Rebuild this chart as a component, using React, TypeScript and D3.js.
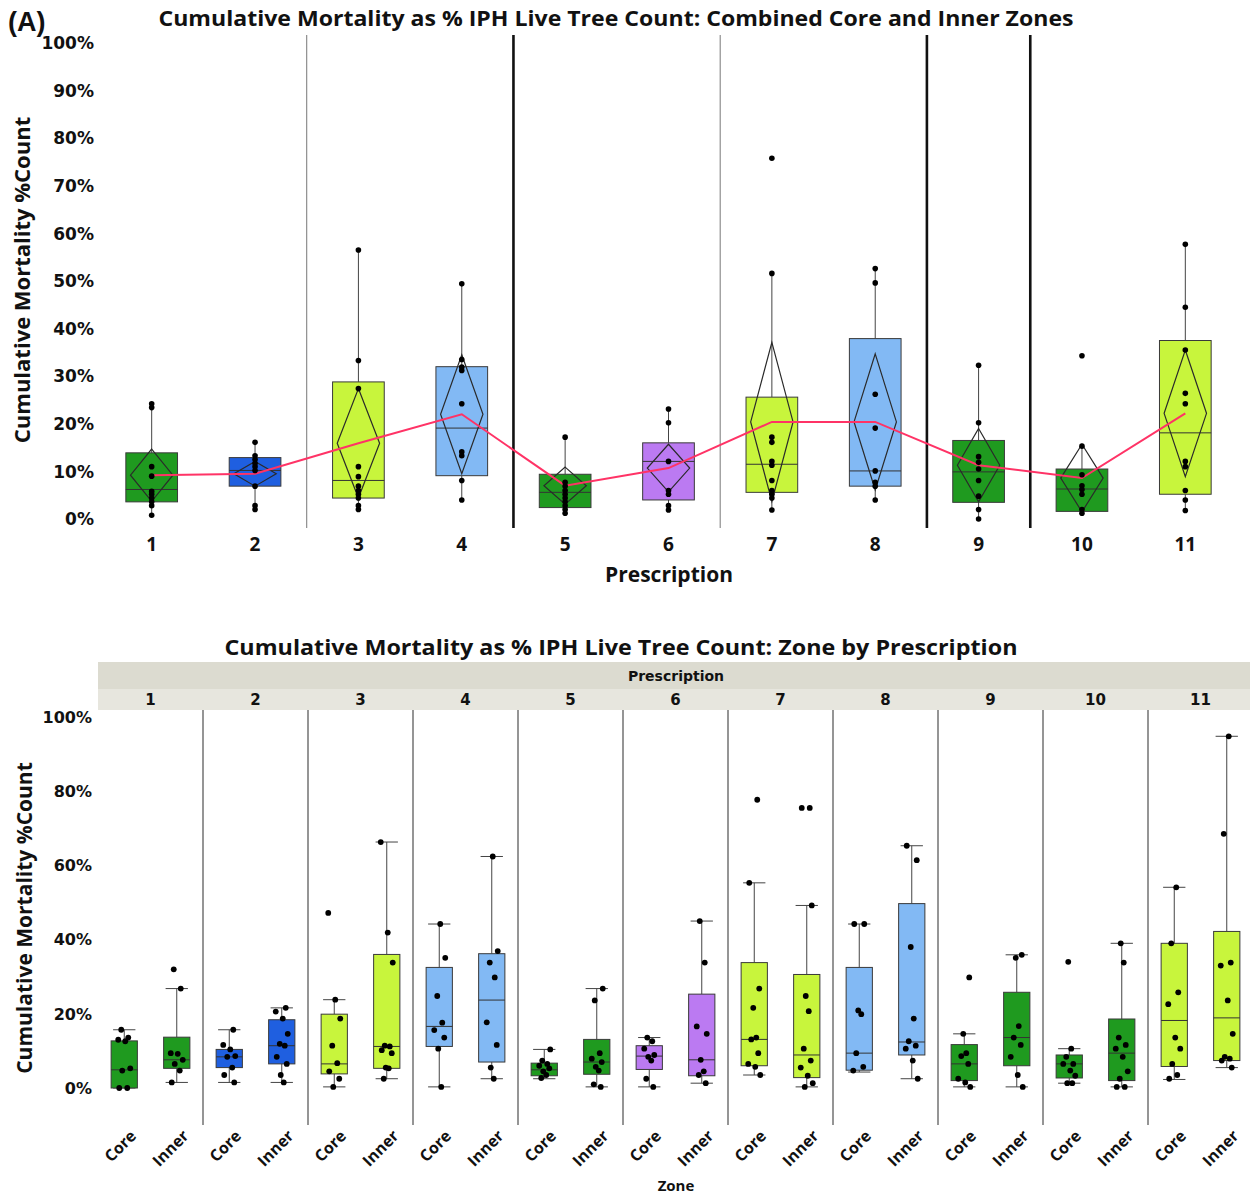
import React from 'react';
import * as d3 from 'd3';

// ---------- shared categories ----------
const prescriptions = ['1', '2', '3', '4', '5', '6', '7', '8', '9', '10', '11'];
const zones = ['Core', 'Inner'];
const rxColors = ['#1f9a1f', '#1f5fe0', '#c8f53c', '#82b9f4', '#1f9a1f', '#bb7af2', '#c8f53c', '#82b9f4', '#1f9a1f', '#1f9a1f', '#c8f53c'];

// ---------- top chart (combined) ----------
const topTicks = [0, 10, 20, 30, 40, 50, 60, 70, 80, 90, 100];
const topQ1 = [3.6, 6.9, 4.4, 9.1, 2.4, 4.0, 5.6, 6.9, 3.5, 1.6, 5.2];
const topMedian = [6.2, 10.2, 8.1, 19.1, 5.6, 12.1, 11.5, 10.1, 9.9, 6.3, 18.1];
const topQ3 = [13.9, 12.9, 28.8, 32.0, 9.4, 16.0, 25.6, 37.9, 16.5, 10.5, 37.5];
const topWhiskerLo = [0.8, 2.0, 2.0, 4.0, 0.8, 1.9, 1.9, 4.0, 0.0, 1.2, 1.8];
const topWhiskerHi = [24.2, 16.1, 56.5, 49.4, 17.2, 23.1, 51.6, 52.6, 32.3, 15.3, 57.7];
const topMean = [9.2, 9.5, 15.9, 22.0, 7.0, 10.7, 20.4, 20.4, 11.3, 8.6, 22.2];
const topCiLo = [3.7, 6.9, 4.4, 9.5, 3.1, 5.7, 3.7, 6.1, 3.6, 1.5, 8.9];
const topCiHi = [14.7, 12.1, 27.4, 34.5, 10.9, 15.7, 37.1, 34.7, 19.0, 15.7, 35.5];
const topPoints = [
  [24.2, 23.4, 11.0, 9.0, 5.8, 5.2, 4.4, 3.6, 2.8, 0.8],
  [16.1, 13.3, 12.5, 11.7, 11.0, 10.2, 6.9, 2.8, 2.0],
  [56.5, 33.3, 27.4, 11.0, 8.9, 6.9, 6.0, 5.2, 4.4, 2.8, 2.0],
  [49.4, 33.5, 31.9, 31.2, 24.2, 14.1, 13.3, 8.1, 4.0],
  [17.2, 7.7, 6.9, 6.0, 5.2, 4.4, 3.6, 2.8, 2.0, 1.2],
  [23.1, 20.2, 12.1, 6.0, 5.2, 2.8, 1.9],
  [75.8, 51.6, 17.2, 16.1, 12.1, 11.3, 8.1, 6.0, 5.2, 4.4, 1.9],
  [52.6, 49.6, 26.2, 19.1, 10.1, 7.7, 6.9, 4.0],
  [32.3, 20.2, 13.1, 11.9, 10.5, 8.1, 4.8, 2.0, 0.0],
  [34.3, 15.3, 9.3, 7.0, 6.2, 5.2, 2.0, 1.2],
  [57.7, 44.5, 35.5, 26.4, 24.2, 12.1, 11.0, 6.0, 4.0, 1.8],
];
const dividerAfter = ['2', '4', '6', '8', '9'];
const dividerWeight = ['thin', 'thick', 'thin', 'thick', 'thick'];

// ---------- bottom chart (zone by prescription) ----------
const botTicks = [0, 20, 40, 60, 80, 100];
const coreQ1 = [0.0, 5.5, 3.8, 11.2, 3.3, 5.0, 6.0, 4.8, 2.0, 2.7, 5.8];
const coreMedian = [4.9, 8.4, 6.5, 16.6, 4.9, 8.6, 13.1, 9.4, 6.5, 6.5, 18.2];
const coreQ3 = [12.7, 10.4, 19.9, 32.5, 6.7, 11.4, 33.8, 32.5, 11.7, 8.9, 39.0];
const coreLo = [0.0, 1.5, 0.3, 0.3, 2.5, 0.3, 3.5, 4.3, 0.3, 1.3, 2.3];
const coreHi = [15.7, 15.7, 23.8, 44.2, 10.4, 13.6, 55.3, 44.2, 14.6, 10.6, 54.1];
const corePoints = [
  [15.7, 13.6, 13.0, 12.6, 5.3, 4.7, 0.0, 0.0],
  [15.7, 11.6, 10.4, 8.6, 8.4, 5.5, 3.5, 1.5],
  [47.2, 23.8, 18.7, 11.4, 6.7, 4.5, 2.5, 0.3],
  [44.2, 35.1, 24.8, 17.6, 15.6, 13.6, 10.6, 0.3],
  [10.4, 7.4, 6.5, 6.0, 5.3, 4.5, 3.5, 2.7],
  [13.6, 12.6, 10.6, 8.9, 8.4, 7.4, 2.5, 0.3],
  [77.7, 55.3, 26.8, 21.6, 13.6, 13.1, 9.4, 6.5, 5.7, 3.5],
  [44.2, 44.2, 20.9, 19.9, 9.4, 5.7, 4.7],
  [29.8, 14.6, 9.4, 8.6, 6.5, 2.5, 1.5, 0.3],
  [34.0, 10.6, 8.4, 6.5, 6.5, 4.7, 3.3, 1.3, 1.3],
  [54.1, 39.0, 25.8, 22.6, 13.6, 10.6, 6.5, 3.5, 2.5],
];
const innerQ1 = [5.3, 6.5, 5.3, 7.0, 3.7, 3.3, 2.8, 8.9, 6.0, 2.0, 7.4];
const innerMedian = [7.6, 11.4, 11.2, 23.7, 7.0, 7.6, 8.9, 12.4, 13.6, 9.4, 18.9];
const innerQ3 = [13.7, 18.4, 36.0, 36.2, 13.1, 25.3, 30.6, 49.7, 25.8, 18.6, 42.2];
const innerLo = [1.5, 1.5, 2.5, 2.5, 0.3, 1.3, 0.3, 2.5, 0.3, 0.3, 5.5];
const innerHi = [26.8, 21.6, 66.3, 62.4, 26.8, 45.0, 49.2, 65.3, 35.9, 39.0, 94.8];
const innerPoints = [
  [32.0, 26.8, 9.4, 9.2, 7.6, 6.5, 4.7, 1.5],
  [21.6, 20.6, 18.7, 14.6, 11.9, 11.4, 8.4, 6.5, 3.5, 1.5],
  [66.3, 41.9, 33.8, 11.4, 11.2, 10.2, 9.4, 5.5, 5.3, 2.5],
  [62.4, 36.9, 33.8, 29.8, 17.7, 11.6, 5.5, 2.5],
  [26.8, 23.6, 9.4, 7.9, 7.0, 5.7, 4.7, 1.0, 0.3],
  [45.0, 33.8, 16.6, 14.6, 7.6, 4.5, 3.5, 1.3],
  [75.5, 75.5, 49.2, 24.8, 20.7, 10.6, 7.4, 5.5, 3.3, 1.3, 0.3],
  [65.3, 61.4, 38.0, 18.7, 12.6, 11.4, 10.6, 7.4, 2.5],
  [35.9, 35.1, 16.7, 13.6, 11.6, 8.4, 3.5, 0.3],
  [39.0, 33.8, 13.6, 11.6, 10.6, 8.4, 4.5, 2.5, 0.3, 0.3],
  [94.8, 68.5, 33.8, 33.0, 23.6, 14.6, 8.4, 7.9, 7.4, 5.5],
];
const jitterPattern = [-3, 4, -6, 1, 6, -2, 3, -5, 5, -1, 2];

const verd = '"DejaVu Sans", Verdana, sans-serif';
const segoe = '"Open Sans", "Noto Sans", sans-serif';

export default function App() {
  const W = 1250;
  const H = 1197;

  // top scales
  const xTop = d3.scaleBand<string>().domain(prescriptions).range([100, 1237]);
  const yTop = d3.scaleLinear().domain([0, 100]).range([519, 43]);
  const topBoxW = xTop.bandwidth() * 0.5;
  const diamondW = topBoxW * 0.82;
  const meanLine = d3
    .line<number>()
    .x((_, i) => (xTop(prescriptions[i]) as number) + xTop.bandwidth() / 2)
    .y((d) => yTop(d));

  // bottom scales
  const xBot = d3.scaleBand<string>().domain(prescriptions).range([98, 1253]);
  const xZone = d3.scaleBand<string>().domain(zones).range([0, xBot.bandwidth()]);
  const yBot = d3.scaleLinear().domain([0, 100]).range([1088, 717]);
  const botBoxW = xZone.bandwidth() * 0.5;

  const zoneData = {
    Core: { q1: coreQ1, med: coreMedian, q3: coreQ3, lo: coreLo, hi: coreHi, pts: corePoints },
    Inner: { q1: innerQ1, med: innerMedian, q3: innerQ3, lo: innerLo, hi: innerHi, pts: innerPoints },
  } as const;

  return (
    <svg
      width={W}
      height={H}
      viewBox={`0 0 ${W} ${H}`}
      style={{ position: 'absolute', left: 0, top: 0, background: '#fff' }}
    >
      <rect x={0} y={0} width={W} height={H} fill="#fff" />

      {/* ================= TOP CHART ================= */}
      <text x={8} y={31} fontFamily='"Liberation Sans", Arial, sans-serif' fontWeight={700} fontSize={27} fill="#111">
        (A)
      </text>
      <text
        x={616}
        y={26}
        textAnchor="middle"
        fontFamily={segoe}
        fontWeight={700}
        fontSize={21}
        textLength={915}
        lengthAdjust="spacingAndGlyphs"
        fill="#111"
      >
        Cumulative Mortality as % IPH Live Tree Count: Combined Core and Inner Zones
      </text>

      {/* y ticks */}
      {topTicks.map((t) => (
        <text
          key={'tt' + t}
          x={94}
          y={yTop(t)}
          dy="0.36em"
          textAnchor="end"
          fontFamily={verd}
          fontWeight={700}
          fontSize={17}
          fill="#111"
        >
          {t}%
        </text>
      ))}
      <text
        transform={`translate(30,${280}) rotate(-90)`}
        textAnchor="middle"
        fontFamily={segoe}
        fontWeight={700}
        fontSize={22}
        fill="#111"
      >
        Cumulative Mortality %Count
      </text>

      {/* dividers */}
      {dividerAfter.map((p, i) => {
        const x = (xTop(p) as number) + xTop.bandwidth();
        const thick = dividerWeight[i] === 'thick';
        return (
          <line
            key={'dv' + p}
            x1={x}
            x2={x}
            y1={35}
            y2={528}
            stroke={thick ? '#111' : '#777'}
            strokeWidth={thick ? 2.6 : 1}
          />
        );
      })}

      {/* boxes */}
      {prescriptions.map((p, i) => {
        const cx = (xTop(p) as number) + xTop.bandwidth() / 2;
        const x0 = cx - topBoxW / 2;
        const dHalf = diamondW / 2;
        const dPath = `M${cx},${yTop(topCiHi[i])} L${cx + dHalf},${yTop(topMean[i])} L${cx},${yTop(topCiLo[i])} L${cx - dHalf},${yTop(topMean[i])} Z`;
        return (
          <g key={'tb' + p}>
            <line x1={cx} x2={cx} y1={yTop(topWhiskerHi[i])} y2={yTop(topQ3[i])} stroke="#444" strokeWidth={1} />
            <line x1={cx} x2={cx} y1={yTop(topQ1[i])} y2={yTop(topWhiskerLo[i])} stroke="#444" strokeWidth={1} />
            <rect
              x={x0}
              y={yTop(topQ3[i])}
              width={topBoxW}
              height={yTop(topQ1[i]) - yTop(topQ3[i])}
              fill={rxColors[i]}
              stroke="#3a3a3a"
              strokeWidth={1}
            />
            <line x1={x0} x2={x0 + topBoxW} y1={yTop(topMedian[i])} y2={yTop(topMedian[i])} stroke="#333" strokeWidth={1} />
            <path d={dPath} fill="none" stroke="#2a2a2a" strokeWidth={1.2} />
          </g>
        );
      })}

      <path d={meanLine(topMean) || ''} fill="none" stroke="#ff3366" strokeWidth={2} />

      {/* points */}
      {prescriptions.map((p, i) => {
        const cx = (xTop(p) as number) + xTop.bandwidth() / 2;
        return topPoints[i].map((v, j) => (
          <circle key={`tp${p}-${j}`} cx={cx} cy={yTop(v)} r={2.8} fill="#000" />
        ));
      })}

      {/* x labels */}
      {prescriptions.map((p) => (
        <text
          key={'tx' + p}
          x={(xTop(p) as number) + xTop.bandwidth() / 2}
          y={551}
          textAnchor="middle"
          fontFamily={segoe}
          fontWeight={700}
          fontSize={19}
          fill="#111"
        >
          {p}
        </text>
      ))}
      <text x={669} y={582} textAnchor="middle" fontFamily={segoe} fontWeight={700} fontSize={21} fill="#111">
        Prescription
      </text>

      {/* ================= BOTTOM CHART ================= */}
      <text
        x={621}
        y={655}
        textAnchor="middle"
        fontFamily={segoe}
        fontWeight={700}
        fontSize={21}
        textLength={793}
        lengthAdjust="spacingAndGlyphs"
        fill="#111"
      >
        Cumulative Mortality as % IPH Live Tree Count: Zone by Prescription
      </text>

      {/* header */}
      <rect x={98} y={662} width={W - 98} height={27} fill="#dcdbd0" />
      <rect x={98} y={689} width={W - 98} height={21} fill="#e7e6de" />
      <text x={676} y={681} textAnchor="middle" fontFamily={verd} fontWeight={700} fontSize={14} fill="#111">
        Prescription
      </text>
      {prescriptions.map((p) => (
        <text
          key={'hx' + p}
          x={(xBot(p) as number) + xBot.bandwidth() / 2}
          y={705}
          textAnchor="middle"
          fontFamily={verd}
          fontWeight={700}
          fontSize={15}
          fill="#111"
        >
          {p}
        </text>
      ))}

      {/* y ticks */}
      {botTicks.map((t) => (
        <text
          key={'bt' + t}
          x={92}
          y={yBot(t)}
          dy="0.36em"
          textAnchor="end"
          fontFamily={verd}
          fontWeight={700}
          fontSize={16}
          fill="#111"
        >
          {t}%
        </text>
      ))}
      <text
        transform={`translate(32,${918}) rotate(-90)`}
        textAnchor="middle"
        fontFamily={segoe}
        fontWeight={700}
        fontSize={21}
        fill="#111"
      >
        Cumulative Mortality %Count
      </text>

      {/* panel separators */}
      {prescriptions.slice(1).map((p) => (
        <line
          key={'ps' + p}
          x1={xBot(p) as number}
          x2={xBot(p) as number}
          y1={710}
          y2={1125}
          stroke="#8a8a8a"
          strokeWidth={1.8}
        />
      ))}

      {/* boxes */}
      {prescriptions.map((p, i) =>
        zones.map((z) => {
          const d = zoneData[z as 'Core' | 'Inner'];
          const cx = (xBot(p) as number) + (xZone(z) as number) + xZone.bandwidth() / 2;
          const x0 = cx - botBoxW / 2;
          const capW = botBoxW * 0.85;
          return (
            <g key={`bb${p}${z}`}>
              <line x1={cx} x2={cx} y1={yBot(d.hi[i])} y2={yBot(d.q3[i])} stroke="#444" strokeWidth={1} />
              <line x1={cx} x2={cx} y1={yBot(d.q1[i])} y2={yBot(d.lo[i])} stroke="#444" strokeWidth={1} />
              <line x1={cx - capW / 2} x2={cx + capW / 2} y1={yBot(d.hi[i])} y2={yBot(d.hi[i])} stroke="#444" strokeWidth={1} />
              <line x1={cx - capW / 2} x2={cx + capW / 2} y1={yBot(d.lo[i])} y2={yBot(d.lo[i])} stroke="#444" strokeWidth={1} />
              <rect
                x={x0}
                y={yBot(d.q3[i])}
                width={botBoxW}
                height={yBot(d.q1[i]) - yBot(d.q3[i])}
                fill={rxColors[i]}
                stroke="#3a3a3a"
                strokeWidth={1}
              />
              <line x1={x0} x2={x0 + botBoxW} y1={yBot(d.med[i])} y2={yBot(d.med[i])} stroke="#333" strokeWidth={1} />
              {d.pts[i].map((v, j) => (
                <circle
                  key={`bp${p}${z}${j}`}
                  cx={cx + jitterPattern[(j + i) % jitterPattern.length]}
                  cy={yBot(v)}
                  r={2.9}
                  fill="#000"
                />
              ))}
            </g>
          );
        })
      )}

      {/* zone labels */}
      {prescriptions.map((p) =>
        zones.map((z) => {
          const cx = (xBot(p) as number) + (xZone(z) as number) + xZone.bandwidth() / 2;
          return (
            <text
              key={`zl${p}${z}`}
              transform={`translate(${cx + 9},${1133}) rotate(-45)`}
              textAnchor="end"
              dy="0.35em"
              fontFamily={segoe}
              fontWeight={700}
              fontSize={16}
              fill="#111"
            >
              {z}
            </text>
          );
        })
      )}
      <text x={676} y={1191} textAnchor="middle" fontFamily={segoe} fontWeight={700} fontSize={15} fill="#111">
        Zone
      </text>
    </svg>
  );
}
